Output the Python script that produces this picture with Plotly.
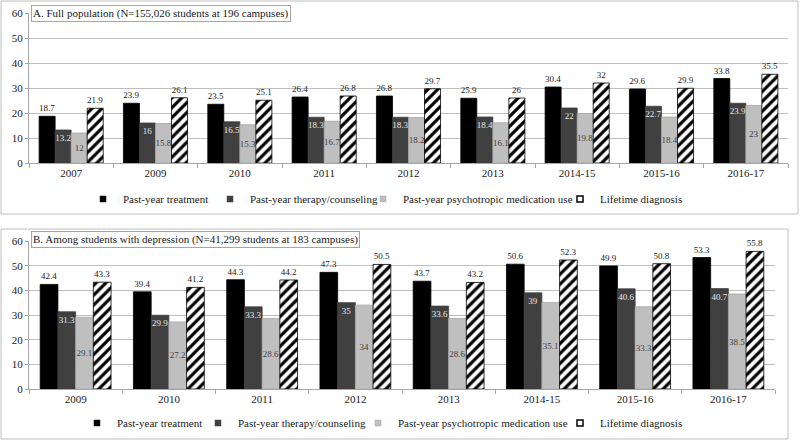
import plotly.graph_objects as go

# ---------------- data ----------------
cats_a = ["2007", "2009", "2010", "2011", "2012", "2013", "2014-15", "2015-16", "2016-17"]
treat_a = [18.7, 23.9, 23.5, 26.4, 26.8, 25.9, 30.4, 29.6, 33.8]
therapy_a = [13.2, 16, 16.5, 18.3, 18.3, 18.4, 22, 22.7, 23.9]
med_a = [12, 15.8, 15.3, 16.7, 18.2, 16.1, 19.8, 18.4, 23]
life_a = [21.9, 26.1, 25.1, 26.8, 29.7, 26, 32, 29.9, 35.5]

cats_b = ["2009", "2010", "2011", "2012", "2013", "2014-15", "2015-16", "2016-17"]
treat_b = [42.4, 39.4, 44.3, 47.3, 43.7, 50.6, 49.9, 53.3]
therapy_b = [31.3, 29.9, 33.3, 35, 33.6, 39, 40.6, 40.7]
med_b = [29.1, 27.2, 28.6, 34, 28.6, 35.1, 33.3, 38.5]
life_b = [43.3, 41.2, 44.2, 50.5, 43.2, 52.3, 50.8, 55.8]

series_names = ["Past-year treatment", "Past-year therapy/counseling",
                "Past-year psychotropic medication use", "Lifetime diagnosis"]
title_a = "A. Full population (N=155,026 students at 196 campuses)"
title_b = "B. Among students with depression (N=41,299 students at 183 campuses)"
y_ticks = [0, 10, 20, 30, 40, 50, 60]

FONT = "Liberation Serif"
W, H = 800, 441

def px_x(p):
    return p / W

def px_y(p):
    return (H - p) / H

fig = go.Figure()

styles = [
    dict(color="#000000", line="#000000", pos="outside", anchor="end", tcolor="#1a1a1a"),
    dict(color="#404040", line="#404040", pos="inside", anchor="end", tcolor="#e6e6e6"),
    dict(color="#bfbfbf", line="#a6a6a6", pos="inside", anchor="middle", tcolor="#404040"),
    dict(color="#ffffff", line="#000000", pos="outside", anchor="end", tcolor="#1a1a1a"),
]

# legend text start (px) for each entry, per panel
legend_text_x_a = [123, 250, 403, 600]
legend_text_x_b = [117, 238, 398, 600]
LEG_OFFSET = 40

legend_layout = {}
legend_counter = [0]

def add_panel(cats, values, xa, ya, text_xs, leg_y):
    for i, (name, vals) in enumerate(zip(series_names, values)):
        s = styles[i]
        marker = dict(color=s["color"], line=dict(color=s["line"], width=0.8))
        if i == 3:
            marker["pattern"] = dict(shape="/", fgcolor="#000000", bgcolor="#ffffff",
                                     size=7, solidity=0.45, fillmode="replace")
        fig.add_trace(go.Bar(
            x=cats, y=vals, name=name, xaxis=xa, yaxis=ya, showlegend=False,
            marker=marker,
            texttemplate="%{y}", textposition=s["pos"], insidetextanchor=s["anchor"],
            textangle=0, constraintext="none", cliponaxis=False,
            textfont=dict(family=FONT, size=9, color=s["tcolor"]),
            insidetextfont=dict(family=FONT, size=9, color=s["tcolor"]),
            outsidetextfont=dict(family=FONT, size=9, color=s["tcolor"]),
        ))
    # small square legend keys (empty traces, one legend box each)
    for i, name in enumerate(series_names):
        s = styles[i]
        if i == 3:
            mk = dict(symbol="square", size=6, color="#ffffff",
                      line=dict(color="#000000", width=1.5))
        else:
            mk = dict(symbol="square", size=6, color=s["color"],
                      line=dict(color=s["line"], width=0.5))
        legend_counter[0] += 1
        n = legend_counter[0]
        key = "legend" if n == 1 else f"legend{n}"
        legend_layout[key] = dict(
            x=px_x(text_xs[i] - LEG_OFFSET), y=px_y(leg_y),
            xanchor="left", yanchor="middle", orientation="h",
            font=dict(family=FONT, size=11, color="#1a1a1a"),
            bgcolor="rgba(0,0,0,0)", itemclick=False, itemwidth=30,
        )
        fig.add_trace(go.Scatter(
            x=[None], y=[None], mode="markers", name=name, xaxis=xa, yaxis=ya,
            legend=key, marker=mk, showlegend=True, hoverinfo="skip",
        ))

add_panel(cats_a, [treat_a, therapy_a, med_a, life_a], "x", "y", legend_text_x_a, 199)
add_panel(cats_b, [treat_b, therapy_b, med_b, life_b], "x2", "y2", legend_text_x_b, 423)

axis_common_x = dict(
    type="category", showline=True, linecolor="#a6a6a6", linewidth=1,
    ticks="outside", tickson="boundaries", ticklen=4, tickcolor="#a6a6a6",
    tickfont=dict(family=FONT, size=11, color="#1a1a1a"), showgrid=False,
    automargin=False,
)
axis_common_y = dict(
    range=[0, 60], tickvals=y_ticks, showline=True, linecolor="#a6a6a6", linewidth=1,
    ticks="outside", ticklen=3, tickcolor="#a6a6a6", gridcolor="#bfbfbf", gridwidth=1,
    zeroline=False, tickfont=dict(family=FONT, size=11, color="#1a1a1a"),
    automargin=False,
)

fig.update_layout(
    width=W, height=H, margin=dict(l=0, r=0, t=0, b=0, pad=0, autoexpand=False),
    paper_bgcolor="white", plot_bgcolor="white",
    barmode="group", bargap=0.24, bargroupgap=0,
    font=dict(family=FONT, size=11, color="#1a1a1a"),
    xaxis=dict(domain=[px_x(29), px_x(788)], anchor="y", **axis_common_x),
    yaxis=dict(domain=[px_y(163), px_y(13)], anchor="x", **axis_common_y),
    xaxis2=dict(domain=[px_x(29), px_x(775)], anchor="y2", **axis_common_x),
    yaxis2=dict(domain=[px_y(389), px_y(241)], anchor="x2", **axis_common_y),
    shapes=[
        dict(type="rect", xref="paper", yref="paper", x0=px_x(1), x1=px_x(798),
             y0=px_y(214), y1=px_y(1), line=dict(color="#bfbfbf", width=1), layer="below"),
        dict(type="rect", xref="paper", yref="paper", x0=px_x(1), x1=px_x(788),
             y0=px_y(439), y1=px_y(229), line=dict(color="#bfbfbf", width=1), layer="below"),
    ],
    annotations=[
        dict(text=title_a, xref="paper", yref="paper", x=px_x(31), y=px_y(13.5),
             xanchor="left", yanchor="middle", showarrow=False,
             font=dict(family=FONT, size=11, color="#1a1a1a"),
             bgcolor="white", bordercolor="#a6a6a6", borderwidth=1, borderpad=1),
        dict(text=title_b, xref="paper", yref="paper", x=px_x(31), y=px_y(239.5),
             xanchor="left", yanchor="middle", showarrow=False,
             font=dict(family=FONT, size=11, color="#1a1a1a"),
             bgcolor="white", bordercolor="#a6a6a6", borderwidth=1, borderpad=1),
    ],
    **legend_layout,
)

fig.write_html("out.html", config={"displayModeBar": False},
               post_script="document.body.style.margin='0';document.body.style.overflow='hidden';")
